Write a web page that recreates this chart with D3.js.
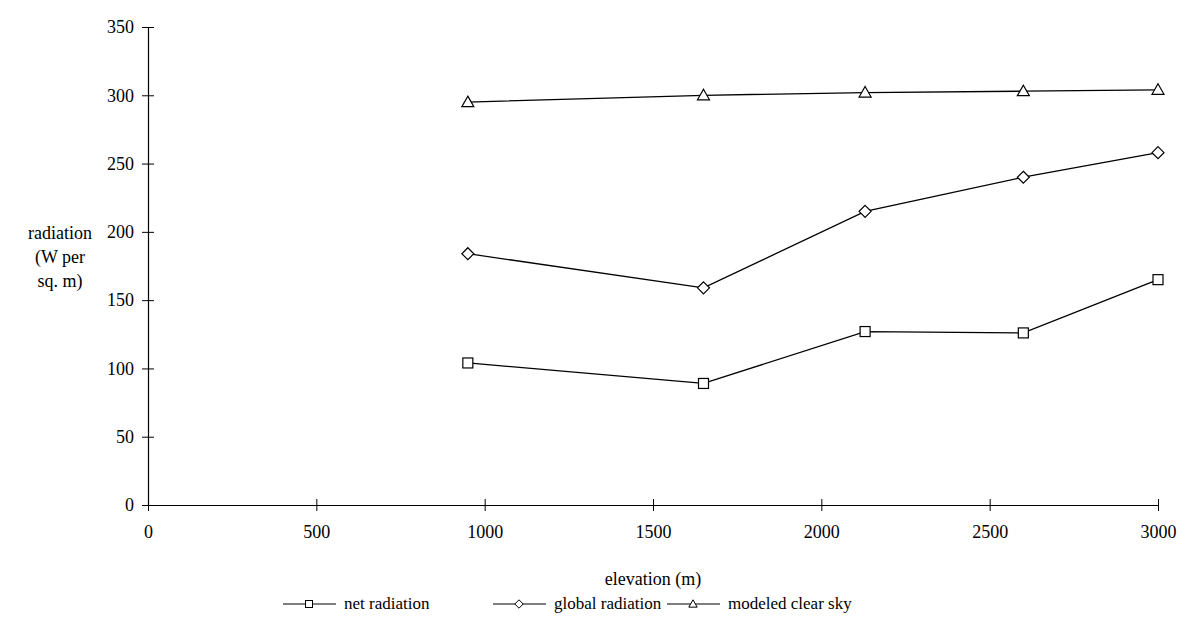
<!DOCTYPE html>
<html>
<head>
<meta charset="utf-8">
<script src="https://cdn.jsdelivr.net/npm/d3@7"></script>
<style>
  html, body { margin: 0; padding: 0; background: #fff; }
  svg text, svg tspan { font-family: "Liberation Serif", "Times New Roman", serif; }
</style>
</head>
<body>
<svg id="chart" width="1188" height="644"></svg>
<script>
// Elevation of the measuring stations (m)
const elevations = [950, 1650, 2130, 2600, 3000];
// Radiation series (W per sq. m)
const netRadiation = [104, 89, 127, 126, 165];
const globalRadiation = [184, 159, 215, 240, 258];
const modeledClearSky = [295, 300, 302, 303, 304];
const seriesNames = ["net radiation", "global radiation", "modeled clear sky"];
const seriesShapes = ["square", "diamond", "triangle"];
const xTicks = [0, 500, 1000, 1500, 2000, 2500, 3000];
const yTicks = [0, 50, 100, 150, 200, 250, 300, 350];

const FONT = '"Liberation Serif"';
const styleText = (sel, fs = "18px") =>
  sel.style("font-family", FONT).style("font-size", fs).attr("fill", "#000");

const svg = d3.select("#chart");
const x = d3.scaleLinear().domain([0, 3000]).range([148, 1158]);
const y = d3.scaleLinear().domain([0, 350]).range([505, 27]);

// Axes: ticks straddle the axis lines
const yAxis = svg.append("g").attr("transform", `translate(${x(0)},0)`)
  .call(d3.axisLeft(y).tickValues(yTicks).tickFormat(d3.format("d"))
    .tickSize(6).tickPadding(8).tickSizeOuter(0));
yAxis.selectAll(".tick line").attr("x1", 6).attr("x2", -6);

const xAxis = svg.append("g").attr("transform", `translate(0,${y(0)})`)
  .call(d3.axisBottom(x).tickValues(xTicks).tickFormat(d3.format("d"))
    .tickSize(6).tickPadding(14).tickSizeOuter(0));
xAxis.selectAll(".tick line").attr("y1", -6).attr("y2", 6);

svg.selectAll("g").attr("font-family", null);
styleText(svg.selectAll(".tick text"));
svg.selectAll(".domain").attr("stroke", "#000").attr("stroke-width", 1.2);
svg.selectAll(".tick line").attr("stroke", "#000");

// Axis titles
const yTitle = styleText(svg.append("text").attr("text-anchor", "middle"));
["radiation", "(W per", "sq. m)"].forEach((t, i) =>
  yTitle.append("tspan").attr("x", 60).attr("y", 239 + i * 24).text(t));
styleText(svg.append("text").attr("x", 653).attr("y", 585).attr("text-anchor", "middle"))
  .text("elevation (m)");

// Marker shapes
function marker(g, shape, cx, cy, s) {
  if (shape === "square") {
    g.append("rect").attr("x", cx - s / 2).attr("y", cy - s / 2).attr("width", s).attr("height", s);
  } else if (shape === "diamond") {
    const r = s * 0.6;
    g.append("path").attr("d", `M${cx},${cy - r}L${cx + r},${cy}L${cx},${cy + r}L${cx - r},${cy}Z`);
  } else {
    const r = s * 0.6;
    g.append("path").attr("d", `M${cx},${cy - r}L${cx + r},${cy + r * 0.75}L${cx - r},${cy + r * 0.75}Z`);
  }
}

const allSeries = [netRadiation, globalRadiation, modeledClearSky];
const line = d3.line().x(d => x(d[0])).y(d => y(d[1]));
allSeries.forEach((vals, si) => {
  const pts = elevations.map((e, i) => [e, vals[i]]);
  svg.append("path").attr("d", line(pts)).attr("fill", "none")
    .attr("stroke", "#000").attr("stroke-width", 1.3);
  const g = svg.append("g").attr("fill", "#fff").attr("stroke", "#000").attr("stroke-width", 1.2);
  pts.forEach(p => marker(g, seriesShapes[si], x(p[0]), y(p[1]), 10));
});

// Legend: line sample with marker, then the series name
const legendX = [283, 493, 667];
seriesNames.forEach((name, i) => {
  const lx = legendX[i];
  const ly = 604;
  svg.append("line").attr("x1", lx).attr("x2", lx + 53).attr("y1", ly).attr("y2", ly)
    .attr("stroke", "#000").attr("stroke-width", 1.2);
  const g = svg.append("g").attr("fill", "#fff").attr("stroke", "#000").attr("stroke-width", 1);
  marker(g, seriesShapes[i], lx + 26, ly, 7);
  styleText(svg.append("text").attr("x", lx + 61).attr("y", ly + 5), "17px").text(name);
});
</script>
</body>
</html>
